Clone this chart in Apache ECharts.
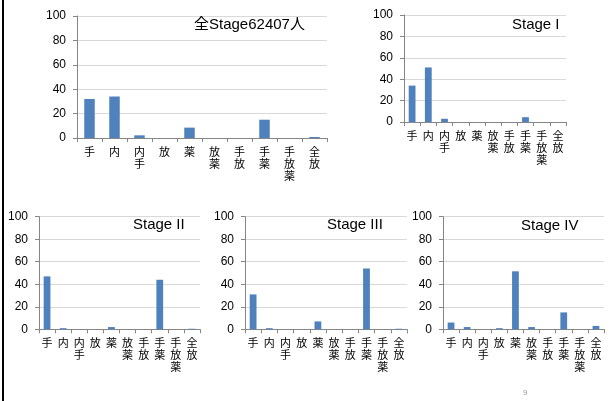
<!DOCTYPE html>
<html>
<head>
<meta charset="utf-8">
<style>
  html, body { margin: 0; padding: 0; background: #fff; }
  #chart { width: 609px; height: 401px; }
</style>
<script src="https://cdn.jsdelivr.net/npm/echarts@6/dist/echarts.min.js"></script>
</head>
<body>
<div id="chart"></div>
<script>
// Treatment categories (shared by all five panels)
const categories = ['手', '内', '内手', '放', '薬', '放薬', '手放', '手薬', '手放薬', '全放'];
const yTicks = [0, 20, 40, 60, 80, 100];

// Percentages per panel
const allStage = [32, 34, 2.2, 0, 8.5, 0, 0, 15, 0, 0.8];
const stage1 = [34, 51, 3, 0, 0, 0, 0, 4.5, 0, 0];
const stage2 = [47, 1, 0, 0, 2, 0, 0, 44, 0, 0.5];
const stage3 = [31, 1, 0, 0, 7, 0, 0, 54, 0, 0.5];
const stage4 = [6, 2, 0, 1, 51.5, 2, 0, 15, 0, 3];

const panelTitles = ['全Stage62407人', 'Stage I', 'Stage II', 'Stage III', 'Stage IV'];
const panelData = [allStage, stage1, stage2, stage3, stage4];

// Layout of each panel: plot box and title anchor
const panels = [
  { left: 77, top: 16, width: 250, height: 122, tx: 194, ty: 16 },
  { left: 404, top: 15, width: 162, height: 107, tx: 512, ty: 16 },
  { left: 39, top: 216.7, width: 161, height: 112.6, tx: 133, ty: 216 },
  { left: 245, top: 216.7, width: 162, height: 112.6, tx: 327, ty: 216 },
  { left: 443, top: 216.7, width: 161, height: 112.6, tx: 521, ty: 217 }
];

const numFont = '"Liberation Sans", Arial, sans-serif';
const cjkFont = '"Noto Sans CJK JP", sans-serif';

const option = {
  animation: false,
  backgroundColor: '#ffffff',
  title: panels.map((p, i) => ({
    text: panelTitles[i],
    left: p.tx,
    top: p.ty,
    padding: 0,
    textStyle: {
      fontFamily: numFont + ',' + cjkFont,
      fontSize: 15,
      fontWeight: 'normal',
      color: '#000',
      lineHeight: 18
    }
  })).concat([{
    text: '9',
    left: 523,
    top: 389,
    padding: 0,
    textStyle: { fontFamily: numFont, fontSize: 8, fontWeight: 'normal', color: '#9a9a9a' }
  }]),
  grid: panels.map(p => ({
    left: p.left, top: p.top, width: p.width, height: p.height, containLabel: false
  })),
  xAxis: panels.map((p, i) => ({
    type: 'category',
    gridIndex: i,
    data: categories,
    boundaryGap: true,
    axisLine: { show: true, lineStyle: { color: '#868686', width: 1 } },
    axisTick: { show: true, length: 4, alignWithLabel: false, interval: 0, lineStyle: { color: '#868686' } },
    axisLabel: {
      interval: 0,
      margin: 8,
      fontFamily: cjkFont,
      fontSize: 11,
      lineHeight: 12,
      color: '#000',
      verticalAlign: 'top',
      formatter: v => v.split('').join('\n')
    },
    splitLine: { show: false }
  })),
  yAxis: panels.map((p, i) => ({
    type: 'value',
    gridIndex: i,
    min: yTicks[0],
    max: yTicks[yTicks.length - 1],
    interval: yTicks[1] - yTicks[0],
    axisLine: { show: true, lineStyle: { color: '#868686', width: 1 } },
    axisTick: { show: true, inside: false, length: 4, lineStyle: { color: '#868686' } },
    axisLabel: { margin: 11, fontFamily: numFont, fontSize: 12, color: '#000' },
    splitLine: { show: true, lineStyle: { color: '#d9d9d9', width: 1 } }
  })),
  series: panelData.map((d, i) => ({
    type: 'bar',
    xAxisIndex: i,
    yAxisIndex: i,
    data: d,
    barWidth: '42%',
    itemStyle: { color: '#4f81bd' }
  })),
  graphic: [{
    type: 'rect',
    shape: { x: 2, y: 0, width: 2, height: 401 },
    style: { fill: '#000' },
    silent: true
  }]
};

const chart = echarts.init(document.getElementById('chart'), null, { renderer: 'canvas' });
chart.setOption(option);
</script>
</body>
</html>
